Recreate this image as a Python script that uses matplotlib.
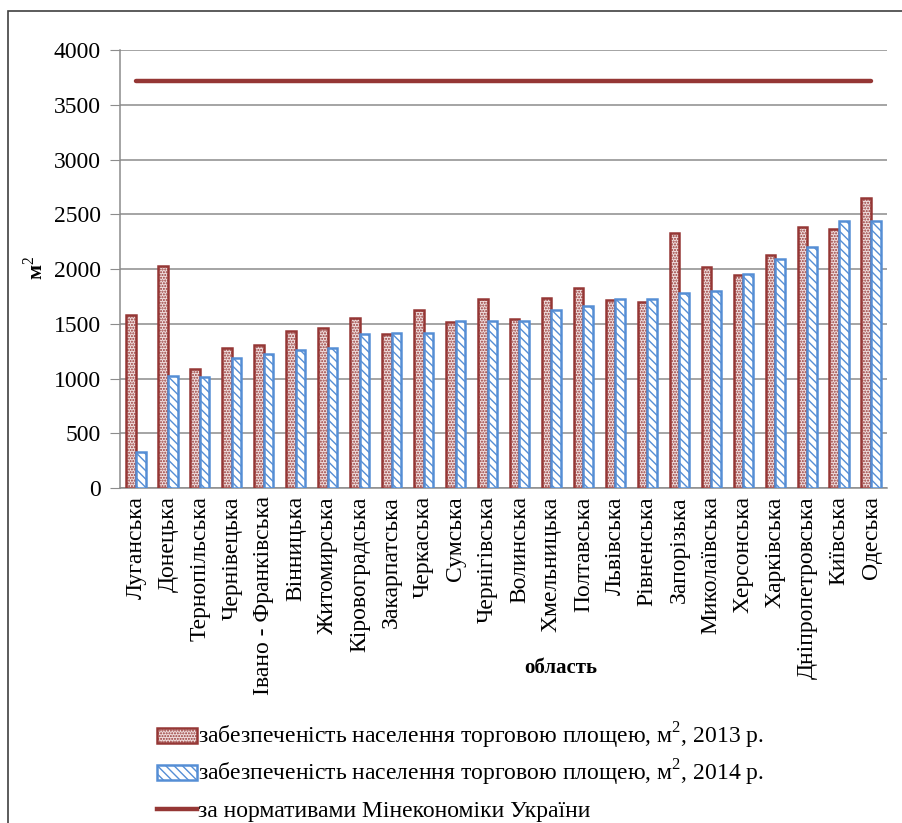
import matplotlib
matplotlib.use('Agg')
import matplotlib.pyplot as plt
import numpy as np
from matplotlib.patches import Patch, Rectangle
from matplotlib.lines import Line2D

plt.rcParams['font.family'] = ['Liberation Serif', 'DejaVu Serif']
plt.rcParams['mathtext.fontset'] = 'custom'
plt.rcParams['mathtext.rm'] = 'Liberation Serif'
plt.rcParams['hatch.linewidth'] = 1.0

regions = ['Луганська', 'Донецька', 'Тернопільська', 'Чернівецька',
           'Івано - Франківська', 'Вінницька', 'Житомирська', 'Кіровоградська',
           'Закарпатська', 'Черкаська', 'Сумська', 'Чернігівська', 'Волинська',
           'Хмельницька', 'Полтавська', 'Львівська', 'Рівненська', 'Запорізька',
           'Миколаївська', 'Херсонська', 'Харківська', 'Дніпропетровська',
           'Київська', 'Одеська']

val_2013 = [1576, 2024, 1089, 1281, 1302, 1433, 1464, 1555, 1409, 1622,
            1512, 1722, 1540, 1731, 1826, 1713, 1698, 2331, 2014, 1944,
            2124, 2386, 2361, 2650]
val_2014 = [329, 1019, 1015, 1190, 1220, 1257, 1281, 1406, 1415, 1418,
            1522, 1528, 1528, 1628, 1665, 1722, 1725, 1777, 1795, 1957,
            2090, 2203, 2437, 2437]
norm_value = 3714

label_2013 = 'забезпеченість населення торговою площею, м$^{2}$, 2013 р.'
label_2014 = 'забезпеченість населення торговою площею, м$^{2}$, 2014 р.'
label_norm = 'за нормативами Мінекономіки України'

RED = '#953735'
BLUE = '#558ed5'
GRID = '#8c8c8c'

W, H = 902, 823
fig = plt.figure(figsize=(W / 100, H / 100), dpi=100)
fig.patch.set_facecolor('white')

# outer chart frame
fig.patches.append(Rectangle((8 / W, -0.05), 1.1, 1 - 11 / H + 0.05,
                             transform=fig.transFigure, fill=False,
                             ec='#404040', lw=1.2))

ax = fig.add_axes([120 / W, 1 - 488 / H, (887 - 120) / W, (488 - 50) / H])

x = np.arange(len(regions))
bw = 0.30
ax.bar(x - bw / 2, val_2013, bw, facecolor='#f0dede', edgecolor=RED,
       hatch='......', lw=1.8, zorder=3)
ax.bar(x + bw / 2, val_2014, bw, facecolor='white', edgecolor=BLUE,
       hatch='\\\\\\\\', lw=1.8, zorder=3)
ax.plot(x, [norm_value] * len(x), color=RED, lw=3.2, solid_capstyle='round',
        zorder=4)

ax.set_xlim(-0.5, len(regions) - 0.5)
ax.set_ylim(0, 4000)
ax.set_yticks(np.arange(0, 4001, 500))
ax.yaxis.grid(True, color=GRID, lw=1.1)
ax.set_axisbelow(True)
for s in ['top', 'right']:
    ax.spines[s].set_visible(False)
ax.spines['left'].set_color(GRID)
ax.spines['bottom'].set_color(GRID)
ax.spines['left'].set_linewidth(1.1)
ax.spines['bottom'].set_linewidth(1.1)
ax.tick_params(axis='y', length=7, color=GRID, labelsize=17, pad=7)
ax.tick_params(axis='x', length=0, labelsize=17, pad=6)
ax.set_xticks(x)
ax.set_xticklabels(regions, rotation=90, va='top', ha='center')

fig.text(35 / W, 1 - 268 / H, 'м$^{2}$', rotation=90, fontsize=16,
         fontweight='bold', ha='center', va='center')
fig.text(561 / W, 1 - 668 / H, 'область', fontsize=15, fontweight='bold',
         ha='center', va='center')

# legend: one row per entry so the rows sit at the reference spacing
handles = [
    Patch(facecolor='#f0dede', edgecolor=RED, hatch='......', lw=1.8),
    Patch(facecolor='white', edgecolor=BLUE, hatch='\\\\\\\\', lw=1.8),
    Line2D([0], [0], color=RED, lw=3.2),
]
labels = [label_2013, label_2014, label_norm]
row_y = [736, 773, 811]
for h, lbl, ry in zip(handles, labels, row_y):
    fig.legend([h], [lbl], loc='center left',
               bbox_to_anchor=(157 / W, 1 - ry / H),
               frameon=False, fontsize=17, handlelength=1.7, handleheight=0.6,
               handletextpad=0.05, borderaxespad=0, borderpad=0)

plt.savefig('out.png', dpi=100, facecolor='white')
